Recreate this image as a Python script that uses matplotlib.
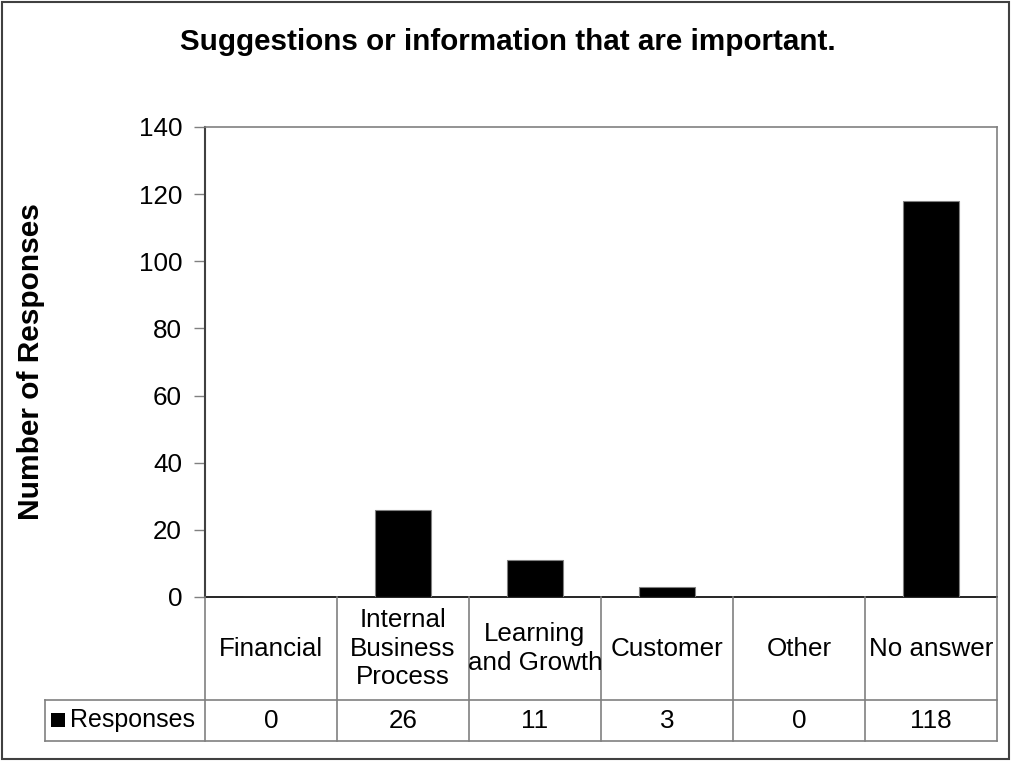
import matplotlib
matplotlib.use("Agg")
import matplotlib.pyplot as plt
from matplotlib.lines import Line2D
from matplotlib.patches import Rectangle

# Survey answers
categories = ["Financial", "Internal\nBusiness\nProcess", "Learning\nand Growth",
              "Customer", "Other", "No answer"]
responses = [0, 26, 11, 3, 0, 118]
series_name = "Responses"
yticks = [0, 20, 40, 60, 80, 100, 120, 140]
title = "Suggestions or information that are important."
ylabel = "Number of Responses"

W, H = 1013, 761
plt.rcParams["font.family"] = ["Liberation Sans", "DejaVu Sans"]
fig = plt.figure(figsize=(W / 100, H / 100), dpi=100)


def fx(px):
    return px / W


def fy(py):
    return 1 - py / H


GRID = "#808080"
DARK = "#404040"

# plot area in pixels
L, R, T, B = 205, 997, 127, 597
ax = fig.add_axes([fx(L), fy(B), fx(R - L), fy(T) - fy(B)])

x = list(range(len(categories)))
ax.bar(x, responses, width=0.42, color="black", edgecolor=GRID, linewidth=0.8, zorder=3)
ax.set_xlim(-0.5, len(categories) - 0.5)
ax.set_ylim(0, 140)
ax.set_yticks(yticks)
ax.set_xticks([])
ax.tick_params(axis="y", direction="out", length=8, width=1.0, color=GRID,
               pad=8.5, labelsize=18.7)
for side in ("top", "right"):
    ax.spines[side].set_color(GRID)
    ax.spines[side].set_linewidth(1.2)
ax.spines["left"].set_color(DARK)
ax.spines["left"].set_linewidth(1.5)
ax.spines["bottom"].set_color("black")
ax.spines["bottom"].set_linewidth(1.2)

# title and y-axis label
fig.text(fx(508), fy(42), title, ha="center", va="center",
         fontsize=21.3, fontweight="bold")
fig.text(fx(31), fy(362), ylabel, ha="center", va="center", rotation=90,
         fontsize=21.5, fontweight="bold")

# data table under the axis
row1_bottom, row2_bottom = 700, 741
col_w = (R - L) / len(categories)
lines = []
# horizontal rules
lines.append(((45, R), (row1_bottom, row1_bottom)))
lines.append(((45, R), (row2_bottom, row2_bottom)))
# vertical rules
lines.append(((L, L), (B, row2_bottom)))
for k in range(1, len(categories) + 1):
    xc = L + k * col_w
    lines.append(((xc, xc), (B, row2_bottom)))
lines.append(((45, 45), (row1_bottom, row2_bottom)))
for xs, ys in lines:
    fig.add_artist(Line2D([fx(v) for v in xs], [fy(v) for v in ys],
                          color=GRID, linewidth=1.2))

for i, (cat, val) in enumerate(zip(categories, responses)):
    cx = L + (i + 0.5) * col_w
    fig.text(fx(cx), fy((B + row1_bottom) / 2), cat, ha="center", va="center",
             fontsize=18.7, linespacing=1.22, multialignment="center")
    fig.text(fx(cx), fy((row1_bottom + row2_bottom) / 2), str(val),
             ha="center", va="center", fontsize=18.7)

# legend key and series name
fig.add_artist(Rectangle((fx(51), fy(727)), fx(14), fy(713) - fy(727),
                         facecolor="black", edgecolor="none"))
fig.text(fx(70), fy((row1_bottom + row2_bottom) / 2), series_name,
         ha="left", va="center", fontsize=18)

# chart frame
fig.add_artist(Rectangle((fx(2), fy(759)), fx(1007), fy(2) - fy(759),
                         fill=False, edgecolor=DARK, linewidth=1.5))

fig.savefig("out.png", dpi=100, facecolor="white")
